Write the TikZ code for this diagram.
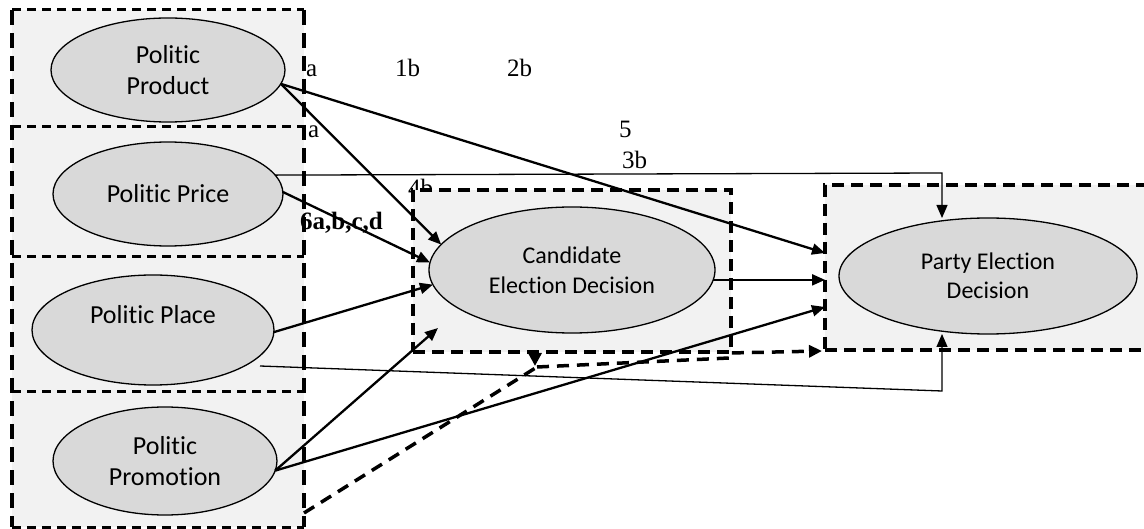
\documentclass[tikz,border=0pt]{standalone}
\usepackage{fontspec}
\setmainfont{Liberation Serif}
\newfontfamily\calib[Ligatures=NoCommon]{Carlito}
\usetikzlibrary{shapes.geometric,arrows.meta,calc}
\definecolor{ellgray}{HTML}{D9D9D9}
\definecolor{boxgray}{HTML}{F2F2F2}
\begin{document}
\begin{tikzpicture}[x=1pt,y=-1pt,
  ell/.style={ellipse, draw=black, line width=1.3pt, fill=ellgray, inner sep=0pt, outer sep=0pt, align=center},
  leftfont/.style={font=\calib\fontsize{26}{31}\selectfont},
  rightfont/.style={font=\calib\fontsize{24}{30}\selectfont},
  colbox/.style={rectangle, fill=boxgray, inner sep=0pt, outer sep=0pt},
  dbox/.style={rectangle, fill=boxgray, draw=black, line width=3.5pt, dash pattern=on 12pt off 7pt, inner sep=0pt, outer sep=0pt},
  hdash/.style={line width=3pt, dash pattern=on 9pt off 6pt},
  vdash/.style={line width=4pt, dash pattern=on 15pt off 8pt},
  arr/.style={line width=2.3pt, -{Triangle[length=13pt,width=11pt]}},
  thinarr/.style={line width=1.3pt, -{Triangle[length=13pt,width=11pt]}},
  dashln/.style={line width=3.5pt, dash pattern=on 12pt off 8pt},
  dasharr/.style={line width=3.5pt, dash pattern=on 12pt off 8pt, -{Triangle[length=13pt,width=12pt]}},
  solidarr/.style={line width=3.5pt, -{Triangle[length=13pt,width=13pt]}},
  lab/.style={inner sep=0pt, anchor=base west, font=\fontsize{25}{30}\selectfont}
]
\useasboundingbox (0,0) rectangle (1144,529);

% left column
\node[colbox, minimum width=292pt, minimum height=117pt] (prodbox) at (158,68.5) {};
\node[colbox, minimum width=292pt, minimum height=130pt] (pricebox) at (158,192) {};
\node[colbox, minimum width=292pt, minimum height=135pt] (placebox) at (158,324.5) {};
\node[colbox, minimum width=292pt, minimum height=135pt] (promobox) at (158,459.5) {};
\draw[hdash] (prodbox.north west) -- (prodbox.north east);
\draw[hdash] (prodbox.south west) -- (prodbox.south east);
\draw[hdash] (pricebox.south west) -- (pricebox.south east);
\draw[hdash] (placebox.south west) -- (placebox.south east);
\draw[hdash] (promobox.south west) -- (promobox.south east);
\draw[vdash] (prodbox.north west) -- (promobox.south west);
\draw[vdash] (prodbox.north east) -- (promobox.south east);

% labels
\node[lab] (la) at (306,77) {a};
\node[lab] (l1b) at (395,77) {1b};
\node[lab] (l2b) at (507,77) {2b};
\node[lab] (la2) at (308,138) {a};
\node[lab] (l5) at (619,138) {5};
\node[lab] (l3b) at (622,169) {3b};
\node[lab] (l4b) at (408,197) {4b};
\node[lab, font=\bfseries\fontsize{25}{30}\selectfont] (l6) at (300,230) {6a,b,c,d};

% right boxes
\node[dbox, minimum width=318pt, minimum height=162pt] (candbox) at (572,271) {};
\node[dbox, minimum width=345pt, minimum height=165pt] (partybox) at (997.5,267.5) {};

% ellipses
\node[ell, leftfont, minimum width=234pt, minimum height=104pt] (prod) at (168,70) {Politic\\Product};
\node[ell, leftfont, minimum width=230pt, minimum height=104pt] (price) at (168,194) {Politic Price};
\node[ell, leftfont, minimum width=242pt, minimum height=110pt] (place) at (153,330) {Politic Place\\\mbox{}};
\node[ell, leftfont, minimum width=224pt, minimum height=108pt] (promo) at (165,461) {Politic\\Promotion};
\node[ell, rightfont, minimum width=286pt, minimum height=126pt] (cand) at (572,270) {Candidate\\Election Decision};
\node[ell, font=\calib\fontsize{24}{29}\selectfont, minimum width=298pt, minimum height=116pt] (party) at (988,276) {Party Election\\Decision};

% helper coordinates
\coordinate (pc) at (942,173);
\coordinate (plc) at (942,391);
\coordinate (dj) at (537,367);
\coordinate (step1) at (729,358);
\coordinate (step2) at (729,353);

% connectors
\draw[arr] (prod.-7) -- ($(partybox.west)+(0,-14.5)$);
\draw[arr] (prod.-7) -- (cand.169.4);
\draw[thinarr] (price.10.9) -- (pc) -- (pc |- party.north);
\draw[arr] (price.1) -- (cand.177.2);
\draw[arr] (place.-1) -- (cand.186.7);
\draw[thinarr] ($(place.center)+(107,36)$) -- (plc) -- (plc |- party.south);
\draw[arr] (promo.-5) -- ($(cand.center)+(-134,58)$);
\draw[arr] (promo.-5) -- ($(partybox.west)+(0,39.5)$);
\draw[arr] (cand.-4) -- (cand.-4 -| partybox.west);

% dashed connectors
\draw[dashln] ($(promobox.south east)+(0,-14)$) -- (dj);
\draw[solidarr] ($(candbox.south west)+(122,-2)$) -- ($(candbox.south west)+(122,14)$);
\draw[dasharr] (dj) -- (step1) -- (step2) -- ($(partybox.south west)+(-3,1)$);
\end{tikzpicture}
\end{document}
